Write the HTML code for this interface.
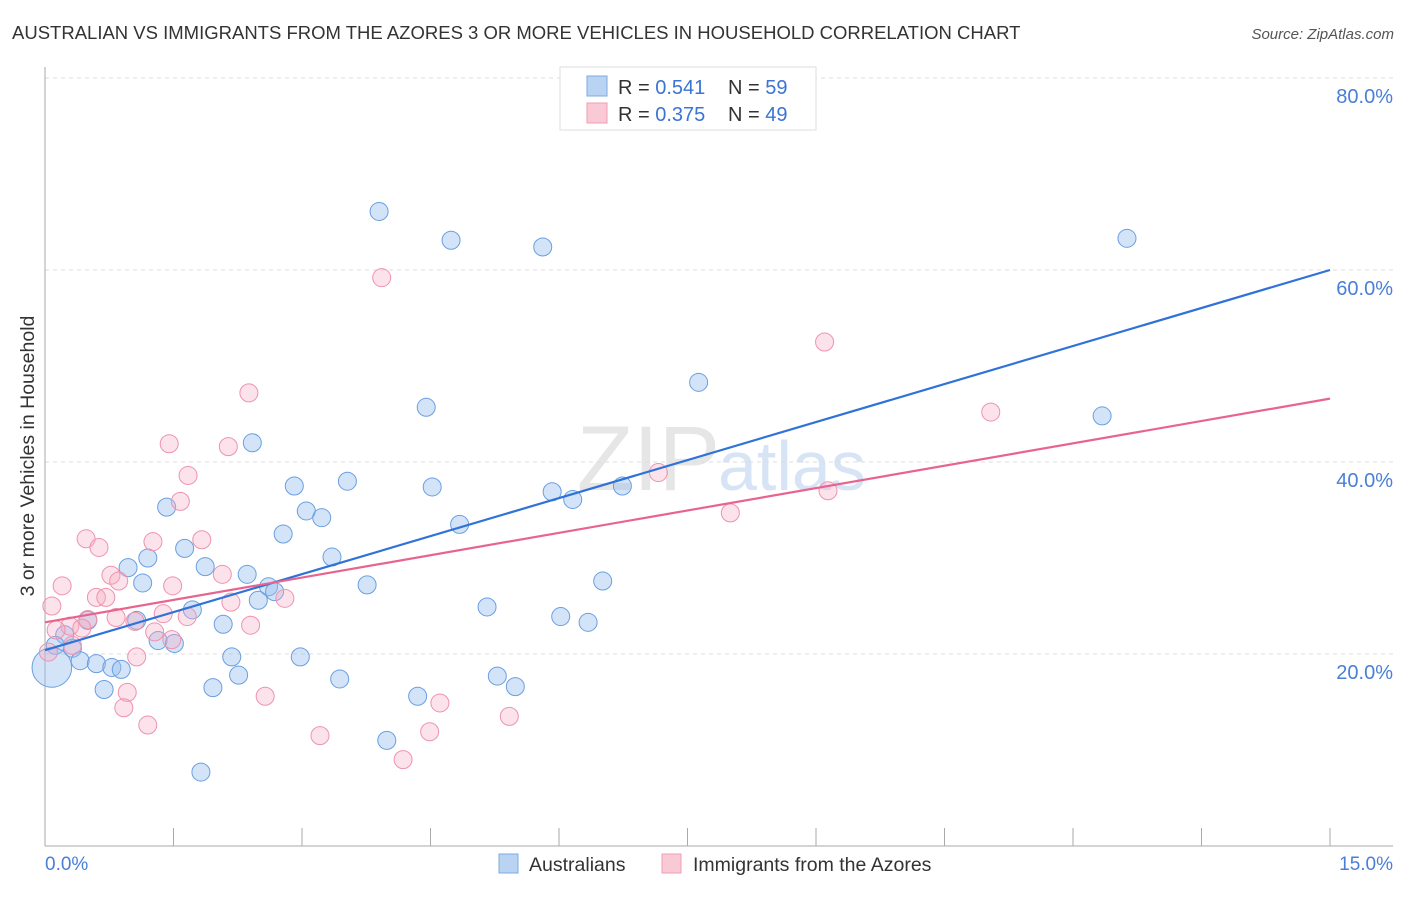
<!DOCTYPE html>
<html><head><meta charset="utf-8"><style>
body{margin:0;background:#fff;font-family:"Liberation Sans",sans-serif}
svg text{font-family:"Liberation Sans",sans-serif}
</style></head><body>
<svg id="c" width="1406" height="892">
<text x="12" y="39" font-size="18.5" fill="#333">AUSTRALIAN VS IMMIGRANTS FROM THE AZORES 3 OR MORE VEHICLES IN HOUSEHOLD CORRELATION CHART</text>
<text x="1394" y="39" font-size="15" fill="#555" font-style="italic" text-anchor="end">Source: ZipAtlas.com</text>
<text x="720" y="490" font-size="92" fill="#e6e6e6" text-anchor="end" font-family="Liberation Serif">ZIP</text>
<text x="718" y="490" font-size="70" fill="#d6e4f5">atlas</text>
<g id="grid"></g><g id="axes"></g><g id="pts"></g><g id="lines"></g>
<text transform="translate(34,456) rotate(-90)" font-size="19.5" fill="#333" text-anchor="middle">3 or more Vehicles in Household</text>
<text x="45" y="870" font-size="19" fill="#4a7fd6">0.0%</text>
<text x="1393" y="870" font-size="19" fill="#4a7fd6" text-anchor="end">15.0%</text>
<g>
<rect x="560" y="67" width="256" height="63" fill="#fff" stroke="#ddd"/>
<rect x="587" y="76" width="20" height="20" fill="#b9d3f3" stroke="#7fa9e3"/>
<rect x="587" y="103" width="20" height="20" fill="#f9c9d6" stroke="#ef9db5"/>
<text x="618" y="94" font-size="20" fill="#333">R = <tspan fill="#3a74d4">0.541</tspan></text>
<text x="728" y="94" font-size="20" fill="#333">N = <tspan fill="#3a74d4">59</tspan></text>
<text x="618" y="121" font-size="20" fill="#333">R = <tspan fill="#3a74d4">0.375</tspan></text>
<text x="728" y="121" font-size="20" fill="#333">N = <tspan fill="#3a74d4">49</tspan></text>
</g>
<g>
<rect x="499" y="854" width="19" height="19" fill="#b9d3f3" stroke="#7fa9e3"/>
<text x="529" y="871" font-size="19.5" fill="#333">Australians</text>
<rect x="662" y="854" width="19" height="19" fill="#f9c9d6" stroke="#ef9db5"/>
<text x="693" y="871" font-size="19.5" fill="#333">Immigrants from the Azores</text>
</g>
</svg>
<script>
const yTicks=[20,40,60,80];
const yTickLabels=["20.0%","40.0%","60.0%","80.0%"];
const blueX=[3.90,4.74,5.81,12.63,7.63,12.34,4.45,2.42,3.53,2.91,4.52,5.92,6.16,6.74,1.42,3.05,3.23,4.84,2.78,1.63,3.35,1.20,0.97,1.87,1.14,2.36,2.61,2.68,2.49,3.76,6.51,5.16,6.02,6.34,1.72,1.07,0.50,2.08,1.32,1.51,0.23,0.12,0.32,0.41,0.60,0.78,0.89,2.18,2.98,2.26,3.44,0.69,1.96,4.35,5.28,5.49,3.99,1.82,0.08];
const blueY=[66.1,63.1,62.4,63.3,48.3,44.8,45.7,42.0,38.0,37.5,37.4,36.9,36.1,37.5,35.3,34.9,34.2,33.5,32.5,31.0,30.1,30.0,29.0,29.1,27.4,28.3,27.0,26.5,25.6,27.2,27.6,24.9,23.9,23.3,24.6,23.5,23.5,23.1,21.4,21.1,22.0,20.9,20.6,19.3,19.0,18.6,18.4,19.7,19.7,17.8,17.4,16.3,16.5,15.6,17.7,16.6,11.0,7.7,18.6];
const blueSize=[1,1,1,1,1,1,1,1,1,1,1,1,1,1,1,1,1,1,1,1,1,1,1,1,1,1,1,1,1,1,1,1,1,1,1,1,1,1,1,1,1,1,1,1,1,1,1,1,1,1,1,1,1,1,1,1,1,1,2.2];
const pinkX=[3.93,9.10,11.04,2.38,1.45,2.14,1.67,1.58,7.16,9.14,8.00,0.48,0.63,1.26,1.83,0.20,0.77,0.86,1.49,2.07,0.60,0.71,0.08,2.17,2.80,0.83,1.38,1.66,1.05,0.50,0.29,0.43,0.13,1.28,2.40,1.48,0.04,1.07,0.96,2.57,0.92,1.20,4.61,5.42,4.49,3.21,4.18,0.32];
const pinkY=[59.2,52.5,45.2,47.2,41.9,41.6,38.6,35.9,38.9,37.0,34.7,32.0,31.1,31.7,31.9,27.1,28.2,27.6,27.1,28.3,25.9,25.9,25.0,25.4,25.8,23.8,24.2,23.9,23.4,23.6,22.9,22.7,22.5,22.3,23.0,21.5,20.2,19.7,16.0,15.6,14.4,12.6,14.9,13.5,11.9,11.5,9.0,20.9];
const blueLine=[20.4,60.0];
const pinkLine=[23.3,46.6];
const ns="http://www.w3.org/2000/svg";
const X=v=>45+v*(1285/15), Y=v=>846-v*9.6;
function mk(tag,attrs,parent){const e=document.createElementNS(ns,tag);for(const k in attrs)e.setAttribute(k,attrs[k]);document.getElementById(parent).appendChild(e);return e;}
yTicks.forEach((t,i)=>{
 const g=mk('line',{x1:45,x2:1393,y1:Y(t),y2:Y(t),stroke:'#ddd','stroke-dasharray':'4,4'},'grid');
 
 
 const l=mk('text',{x:1393,y:Y(t)+25,'font-size':20,fill:'#4a7fd6','text-anchor':'end'},'grid');
 l.textContent=yTickLabels[i];
 
 
});
const ax=mk('line',{x1:45,x2:45,y1:67,y2:846,stroke:'#aaa'},'axes');


const bx=mk('line',{x1:45,x2:1393,y1:846,y2:846,stroke:'#aaa'},'axes');


for(let i=1;i<=10;i++){const t=mk('line',{x1:X(i*1.5),x2:X(i*1.5),y1:828,y2:846,stroke:'#aaa'},'axes');
 
 }
blueX.forEach((v,i)=>{const c=mk('circle',{cx:X(v),cy:Y(blueY[i]),r:9*blueSize[i],fill:'rgba(150,190,238,0.42)',stroke:'#6a9fe0','stroke-width':1},'pts');
 
 });
pinkX.forEach((v,i)=>{const c=mk('circle',{cx:X(v),cy:Y(pinkY[i]),r:9,fill:'rgba(246,172,195,0.35)',stroke:'#ee93ae','stroke-width':1},'pts');
 
 });
const bl=mk('line',{x1:X(0),y1:Y(blueLine[0]),x2:X(15),y2:Y(blueLine[1]),stroke:'#2f72d8','stroke-width':2.2},'lines');


const pl=mk('line',{x1:X(0),y1:Y(pinkLine[0]),x2:X(15),y2:Y(pinkLine[1]),stroke:'#e8648f','stroke-width':2.2},'lines');


</script>
</body></html>
